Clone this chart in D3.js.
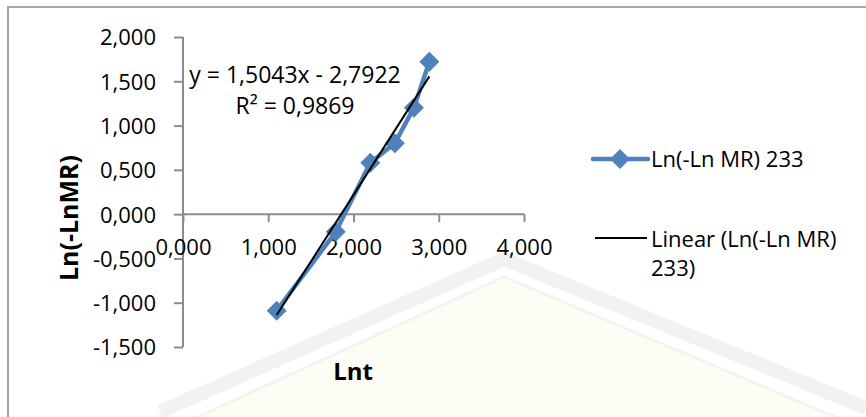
<!DOCTYPE html>
<html>
<head>
<meta charset="utf-8">
<script src="https://cdnjs.cloudflare.com/ajax/libs/d3/7.8.5/d3.min.js"></script>
<style>
  body { margin: 0; background: #fff; }
  svg { display: block; font-family: "Open Sans", sans-serif; }
</style>
</head>
<body>
<div id="chart"></div>
<script>
// data (x = Ln t, y = Ln(-Ln MR))
var lnT = [1.099, 1.792, 2.197, 2.485, 2.708, 2.890];
var lnLnMR = [-1.09, -0.20, 0.58, 0.80, 1.20, 1.72];
var xTicks = [0, 1, 2, 3, 4];
var yTicks = [-1.5, -1.0, -0.5, 0, 0.5, 1.0, 1.5, 2.0];
var trendSlope = 1.5043, trendIntercept = -2.7922;
var equationText = "y = 1,5043x - 2,7922";
var r2Text = "R² = 0,9869";
var seriesName = "Ln(-Ln MR) 233";
var trendName = ["Linear (Ln(-Ln MR)", "233)"];

var width = 866, height = 417;
var locale = d3.formatLocale({decimal: ",", thousands: ".", grouping: [3], currency: ["", ""], minus: "-"});
var fmt = locale.format(".3f");

var svg = d3.select("#chart").append("svg")
  .attr("width", width).attr("height", height);

// faint watermark in the background
var wm = svg.append("g");
wm.append("path")
  .attr("d", "M175,425 L504,276 L866,430 Z")
  .attr("fill", "#fdfdf6");
wm.append("path")
  .attr("d", "M180,425 L504,277 L866,430")
  .attr("fill", "none").attr("stroke", "#f4f4ef").attr("stroke-width", 3);
wm.append("path")
  .attr("d", "M160,412 L504,259 L866,408")
  .attr("fill", "none").attr("stroke", "#f2f2f1").attr("stroke-width", 14);

// chart frame (only top and left edges visible)
svg.append("path")
  .attr("d", "M8,417 L8,7 L866,7")
  .attr("fill", "none").attr("stroke", "#a6a6a6").attr("stroke-width", 2);

var x = d3.scaleLinear().domain([0, 4]).range([183, 524]);
var y = d3.scaleLinear().domain([-1.5, 2]).range([347, 37]);

var yAxis = svg.append("g")
  .attr("transform", "translate(" + x(0) + ",0)")
  .call(d3.axisLeft(y).tickValues(yTicks).tickSize(9).tickFormat(fmt));
yAxis.selectAll("text")
  .attr("x", -27).attr("dy", "0.36em")
  .style("font-size", "22px").style("fill", "#000")
  .style("font-family", "'Open Sans', sans-serif");

var xAxis = svg.append("g")
  .attr("transform", "translate(0," + y(0) + ")")
  .call(d3.axisBottom(x).tickValues(xTicks).tickSize(8).tickFormat(fmt));
xAxis.selectAll("text")
  .attr("y", 41).attr("dy", 0)
  .style("font-size", "22px").style("fill", "#000")
  .style("font-family", "'Open Sans', sans-serif");

svg.selectAll(".domain, .tick line")
  .attr("stroke", "#8c8c8c").attr("stroke-width", 2);
// plain axis lines without the end caps
yAxis.select(".domain").attr("d", "M0," + y(-1.5) + "V" + y(2));
xAxis.select(".domain").attr("d", "M" + x(0) + ",0H" + x(4));

// series line + diamonds
var pts = lnT.map(function(v, i) { return [v, lnLnMR[i]]; });
var line = d3.line().x(function(d) { return x(d[0]); }).y(function(d) { return y(d[1]); });

svg.append("path")
  .datum(pts)
  .attr("d", line)
  .attr("fill", "none").attr("stroke", "#4f81bd")
  .attr("stroke-width", 4.5).attr("stroke-linejoin", "round");

var diamond = d3.symbol().type(d3.symbolSquare).size(200);
svg.append("g").selectAll("path")
  .data(pts)
  .enter().append("path")
    .attr("d", diamond)
    .attr("transform", function(d) { return "translate(" + x(d[0]) + "," + y(d[1]) + ") rotate(45)"; })
    .attr("fill", "#4f81bd");

// linear trendline
var tx = d3.extent(lnT);
svg.append("path")
  .datum(tx.map(function(v) { return [v, trendSlope * v + trendIntercept]; }))
  .attr("d", line)
  .attr("fill", "none").attr("stroke", "#000").attr("stroke-width", 2);

// equation
svg.append("text").attr("x", 295).attr("y", 83)
  .attr("text-anchor", "middle").style("font-size", "23px").text(equationText);
svg.append("text").attr("x", 295).attr("y", 114)
  .attr("text-anchor", "middle").style("font-size", "23px").text(r2Text);

// axis titles
svg.append("text")
  .attr("transform", "translate(78,218) rotate(-90)")
  .attr("text-anchor", "middle")
  .style("font-size", "25px").style("font-weight", "bold")
  .text("Ln(-LnMR)");
svg.append("text")
  .attr("x", 353).attr("y", 380)
  .attr("text-anchor", "middle")
  .style("font-size", "24px").style("font-weight", "bold")
  .text("Lnt");

// legend
var leg = svg.append("g");
leg.append("line").attr("x1", 593).attr("x2", 648).attr("y1", 159).attr("y2", 159)
  .attr("stroke", "#4f81bd").attr("stroke-width", 4.5).attr("stroke-linecap", "round");
leg.append("path").attr("d", diamond)
  .attr("transform", "translate(620,159) rotate(45)").attr("fill", "#4f81bd");
leg.append("text").attr("x", 651).attr("y", 167).style("font-size", "22px").text(seriesName);

leg.append("line").attr("x1", 595).attr("x2", 647).attr("y1", 238).attr("y2", 238)
  .attr("stroke", "#000").attr("stroke-width", 2);
leg.selectAll("text.tr")
  .data(trendName)
  .enter().append("text").attr("class", "tr")
    .attr("x", 651).attr("y", function(d, i) { return 247 + i * 29; })
    .style("font-size", "22px").text(function(d) { return d; });
</script>
</body>
</html>
